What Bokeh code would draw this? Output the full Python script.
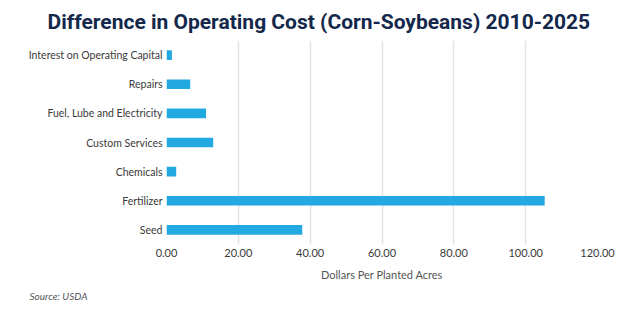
from bokeh.plotting import figure
from bokeh.models import FactorRange, Range1d, FixedTicker, Title, NumeralTickFormatter
from bokeh.embed import file_html
from bokeh.resources import INLINE

categories = ["Seed", "Fertilizer", "Chemicals", "Custom Services",
              "Fuel, Lube and Electricity", "Repairs", "Interest on Operating Capital"]
values = [37.8, 105.3, 2.7, 13.0, 11.0, 6.6, 1.5]
x_ticks = [0, 20, 40, 60, 80, 100, 120]

BAR = "#22a9e1"
TXT = "#3a3a3a"
FONT = "Lato"

p = figure(width=640, height=321, output_backend="svg", toolbar_location=None,
           y_range=FactorRange(*categories, range_padding=0),
           x_range=Range1d(0, 120),
           min_border_left=166, min_border_right=43, min_border_top=40, min_border_bottom=77)

p.hbar(y=categories, right=values, left=0, height=0.33, color=BAR, line_color=None)

p.title.text = "Difference in Operating Cost (Corn-Soybeans) 2010-2025"
p.title.align = "left"
p.title.text_font = "Roboto"
p.title.text_font_style = "bold"
p.title.text_font_size = "21px"
p.title.text_color = "#13284b"
p.title.offset = -119
p.title.standoff = 13

src = Title(text="Source: USDA", text_font=FONT, text_font_style="italic",
            text_font_size="10px", text_color="#555555", align="left", offset=-137, standoff=8)
p.add_layout(src, "below")

p.outline_line_color = None
p.background_fill_color = "white"
p.border_fill_color = "white"

xa = p.xaxis[0]
xa.ticker = FixedTicker(ticks=x_ticks)
xa.formatter = NumeralTickFormatter(format="0.00")
xa.axis_line_color = None
xa.major_tick_line_color = None
xa.minor_tick_line_color = None
xa.major_tick_out = 0
xa.minor_tick_out = 0
xa.major_label_text_font = FONT
xa.major_label_text_font_size = "11px"
xa.major_label_text_color = TXT
xa.major_label_standoff = 4
xa.axis_label = "Dollars Per Planted Acres"
xa.axis_label_text_font = FONT
xa.axis_label_text_font_style = "normal"
xa.axis_label_text_font_size = "11px"
xa.axis_label_text_color = "#555555"
xa.axis_label_standoff = 8

ya = p.yaxis[0]
ya.axis_line_color = None
ya.major_tick_line_color = None
ya.minor_tick_line_color = None
ya.major_tick_out = 0
ya.minor_tick_out = 0
ya.major_label_text_font = FONT
ya.major_label_text_font_size = "10.5px"
ya.major_label_text_color = TXT
ya.major_label_standoff = 4

p.xgrid.ticker = FixedTicker(ticks=x_ticks)
p.xgrid.grid_line_color = "#e3e3e3"
p.xgrid.grid_line_width = 1.5
p.ygrid.grid_line_color = None

open("out.html", "w").write(file_html(p, INLINE))
